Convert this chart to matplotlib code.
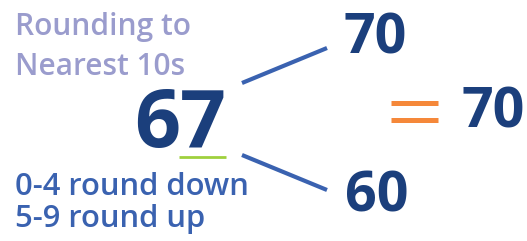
import matplotlib
matplotlib.use("Agg")
import matplotlib.pyplot as plt

# data
title_lines = ["Rounding to", "Nearest 10s"]
number = "67"
rounded_up = "70"
rounded_down = "60"
result = "70"
rule_lines = ["0-4 round down", "5-9 round up"]

W, H = 527, 241
fig = plt.figure(figsize=(W / 100, H / 100), dpi=100)
ax = fig.add_axes([0, 0, 1, 1])
ax.set_xlim(0, W)
ax.set_ylim(H, 0)
ax.axis("off")

navy = "#1b3f7c"
blue = "#3a62b0"
lav = "#9a9ccd"
orange = "#f5883a"
green = "#9fd03d"
fam = "Open Sans"

# title
ax.text(15, 35, title_lines[0], color=lav, fontsize=21.5, fontfamily=fam,
        fontweight="semibold", va="baseline", ha="left")
ax.text(15, 75, title_lines[1], color=lav, fontsize=21.5, fontfamily=fam,
        fontweight="semibold", va="baseline", ha="left")

# main number
ax.text(180, 147, number, color=navy, fontsize=58, fontfamily=fam,
        fontweight="bold", va="baseline", ha="center")
ax.plot([179, 226], [157, 157], color=green, lw=2, solid_capstyle="butt")

# branches
ax.plot([242, 327], [83, 48], color=blue, lw=3, solid_capstyle="butt")
ax.plot([242, 327], [155, 190], color=blue, lw=3, solid_capstyle="butt")

ax.text(375, 53, rounded_up, color=navy, fontsize=40, fontfamily=fam,
        fontweight="bold", va="baseline", ha="center")
ax.text(377, 212, rounded_down, color=navy, fontsize=40, fontfamily=fam,
        fontweight="bold", va="baseline", ha="center")

# equals sign
ax.plot([391, 438], [102.5, 102.5], color=orange, lw=3.6, solid_capstyle="butt")
ax.plot([391, 438], [119.5, 119.5], color=orange, lw=3.6, solid_capstyle="butt")

ax.text(493, 128, result, color=navy, fontsize=40, fontfamily=fam,
        fontweight="bold", va="baseline", ha="center")

# rules
ax.text(15, 195, rule_lines[0], color=blue, fontsize=22.3, fontfamily=fam,
        fontweight="semibold", va="baseline", ha="left")
ax.text(15, 227, rule_lines[1], color=blue, fontsize=22.3, fontfamily=fam,
        fontweight="semibold", va="baseline", ha="left")

fig.savefig("out.png", dpi=100)
